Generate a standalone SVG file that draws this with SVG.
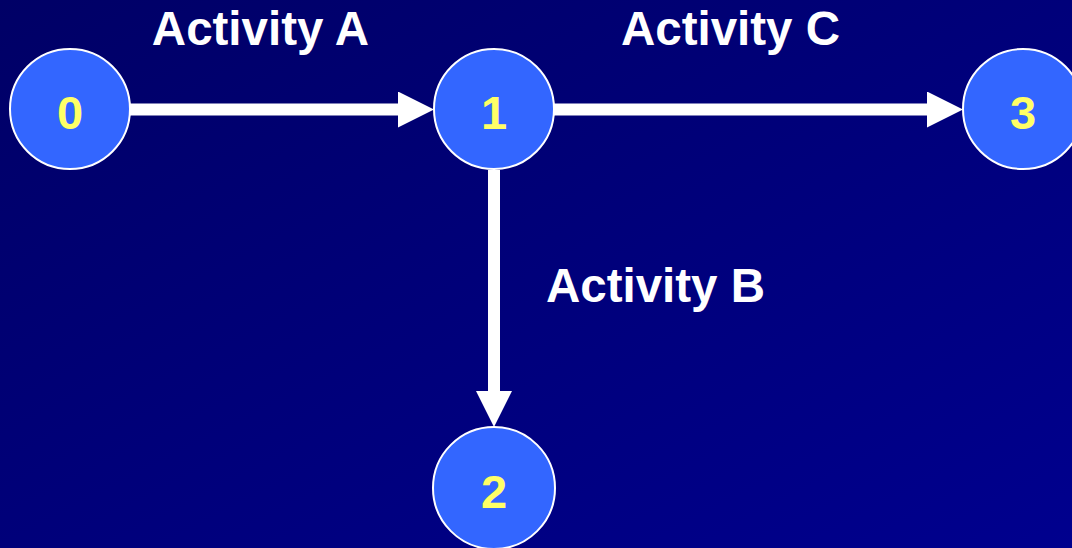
<svg xmlns="http://www.w3.org/2000/svg" width="1072" height="548" viewBox="0 0 1072 548">
  <defs>
    <linearGradient id="bg" x1="0" y1="0" x2="1" y2="1">
      <stop offset="0" stop-color="#000066"/>
      <stop offset="1" stop-color="#00008e"/>
    </linearGradient>
    <marker id="arrow" markerUnits="userSpaceOnUse" markerWidth="36" markerHeight="36" refX="0" refY="18" orient="auto" viewBox="0 0 36 36">
      <path d="M0,0 L36,18 L0,36 Z" fill="#ffffff"/>
    </marker>
  </defs>
  <style>
    .node circle { fill: #3366ff; stroke: #ffffff; stroke-width: 2; }
    .num { font-family: "Liberation Sans", Arial, sans-serif; font-weight: bold; font-size: 47px; fill: #ffff66; text-anchor: middle; }
    .lbl { font-family: "Liberation Sans", Arial, sans-serif; font-weight: bold; font-size: 47.5px; fill: #ffffff; text-anchor: middle; }
    .edge { stroke: #ffffff; stroke-width: 12; fill: none; stroke-linecap: butt; marker-end: url(#arrow); }
  </style>
  <rect x="0" y="0" width="1072" height="548" fill="url(#bg)"/>
  <g id="connectors">
    <line class="edge" x1="130" y1="109.5" x2="398" y2="109.5"/>
    <line class="edge" x1="554" y1="109.5" x2="927" y2="109.5"/>
    <line class="edge" x1="494" y1="170" x2="494" y2="391"/>
  </g>
  <g id="labels">
    <text class="lbl" x="260.5" y="45">Activity A</text>
    <text class="lbl" x="730.5" y="45">Activity C</text>
    <text class="lbl" x="655.5" y="302">Activity B</text>
  </g>
  <g id="node0" class="node">
    <circle cx="70" cy="109" r="60"/>
    <text class="num" x="70" y="129">0</text>
  </g>
  <g id="node1" class="node">
    <circle cx="494" cy="109" r="60"/>
    <text class="num" x="494" y="129">1</text>
  </g>
  <g id="node3" class="node">
    <circle cx="1023" cy="109" r="60"/>
    <text class="num" x="1023" y="129">3</text>
  </g>
  <g id="node2" class="node">
    <circle cx="494" cy="488" r="61"/>
    <text class="num" x="494" y="508">2</text>
  </g>
</svg>
